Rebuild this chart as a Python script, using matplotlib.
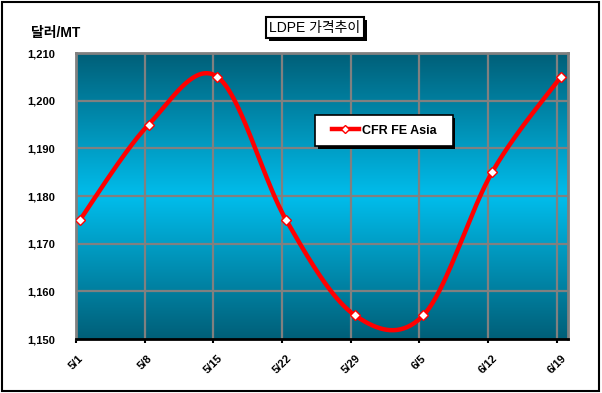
import numpy as np
import matplotlib.pyplot as plt
import matplotlib.patheffects as pe
from matplotlib.colors import LinearSegmentedColormap
from matplotlib.patches import Rectangle
from matplotlib.lines import Line2D

# ---- data ----
dates = ["5/1", "5/8", "5/15", "5/22", "5/29", "6/5", "6/12", "6/19"]
prices = [1175, 1195, 1205, 1175, 1155, 1155, 1185, 1205]
series_name = "CFR FE Asia"
title = "LDPE 가격추이"
unit_label = "달러/MT"
yticks = [1150, 1160, 1170, 1180, 1190, 1200, 1210]

FONT = ["Liberation Sans", "Noto Sans CJK KR", "DejaVu Sans"]
plt.rcParams["font.family"] = FONT


def smooth(x, y, n=40):
    # Catmull-Rom style smoothing (like Excel's "smoothed line")
    x = np.asarray(x, float)
    y = np.asarray(y, float)
    px = np.concatenate([[x[0]], x, [x[-1]]])
    py = np.concatenate([[y[0]], y, [y[-1]]])
    xs, ys = [], []
    for i in range(1, len(px) - 2):
        t = np.linspace(0, 1, n)
        mx0 = (px[i + 1] - px[i - 1]) / 2
        mx1 = (px[i + 2] - px[i]) / 2
        my0 = (py[i + 1] - py[i - 1]) / 2
        my1 = (py[i + 2] - py[i]) / 2
        h00 = 2 * t**3 - 3 * t**2 + 1
        h01 = -2 * t**3 + 3 * t**2
        h10 = t**3 - 2 * t**2 + t
        h11 = t**3 - t**2
        xs.append(h00 * px[i] + h01 * px[i + 1] + h10 * mx0 + h11 * mx1)
        ys.append(h00 * py[i] + h01 * py[i + 1] + h10 * my0 + h11 * my1)
    return np.concatenate(xs), np.concatenate(ys)


fig = plt.figure(figsize=(6.02, 3.93), dpi=100)
fig.patch.set_facecolor("white")
ax = fig.add_axes([0.1262, 0.1374, 0.8173, 0.7277])

x = np.arange(len(dates))
off = 0.058
ax.set_xlim(-off, 7.104)
ax.set_ylim(1150, 1210)

# gradient background (dark teal -> bright cyan -> dark teal)
cmap = LinearSegmentedColormap.from_list(
    "bg", [(0.0, "#005f78"), (0.5, "#00bdec"), (1.0, "#005f78")])
grad = np.linspace(0, 1, 256).reshape(-1, 1)
ax.imshow(grad, cmap=cmap, aspect="auto", extent=[-off, 7.104, 1150, 1210],
          zorder=0, origin="upper")

# grid
for xi in x - off:
    ax.axvline(xi, color="#808080", lw=1.6, zorder=1)
for yv in yticks[1:-1]:
    ax.axhline(yv, color="#808080", lw=1.6, zorder=1)

sx, sy = smooth(x, prices)
ax.plot(sx, sy, color="#ff0000", lw=3.2, zorder=3, solid_capstyle="round")
ax.plot(x, prices, ls="none", marker="D", ms=5.5, mfc="white", mec="#ff0000",
        mew=1.0, zorder=4)

ax.set_xticks(x - off)
ax.set_xticklabels(dates, rotation=45, ha="center", fontsize=8,
                   fontweight="bold")
ax.set_yticks(yticks)
ax.set_yticklabels([f"{v:,}" for v in yticks], fontsize=8, fontweight="bold")
ax.tick_params(axis="y", length=0, pad=15)
ax.tick_params(axis="x", length=3, width=1.5, pad=7)

for side in ["top", "right", "left"]:
    ax.spines[side].set_color("#808080")
    ax.spines[side].set_linewidth(2)
ax.spines["bottom"].set_color("black")
ax.spines["bottom"].set_linewidth(2)
ax.spines["bottom"].set_zorder(5)

# legend box with shadow
lx0, ly0, lw, lh = 0.486, 0.675, 0.280, 0.108
ax.add_patch(Rectangle((lx0 + 0.005, ly0 - 0.009), lw, lh, transform=ax.transAxes,
                       facecolor="black", edgecolor="none", zorder=6))
ax.add_patch(Rectangle((lx0, ly0), lw, lh, transform=ax.transAxes,
                       facecolor="white", edgecolor="black", lw=1.2, zorder=7))
handle = Line2D([], [], color="#ff0000", lw=3.2, marker="D", ms=4.5,
                mfc="white", mec="#ff0000")
leg = ax.legend([handle], [series_name], loc="center",
                bbox_to_anchor=(lx0 + lw / 2, ly0 + lh / 2),
                frameon=False, handlelength=2.2, handletextpad=0.2,
                prop={"weight": "bold", "size": 9})
leg.set_zorder(8)

# title box with shadow
t = fig.text(0.523, 0.929, title, ha="center", va="center", fontsize=10,
             bbox=dict(boxstyle="square,pad=0.25", facecolor="white",
                       edgecolor="black", lw=1.5))
t.get_bbox_patch().set_path_effects([
    pe.SimplePatchShadow(offset=(2, -2), shadow_rgbFace="black", alpha=1),
    pe.Normal()])
fig.text(0.051, 0.916, unit_label, ha="left", va="center", fontsize=10,
         fontweight="bold")

# outer frame
fig.add_artist(Rectangle((0.004, 0.006), 0.991, 0.988, transform=fig.transFigure,
                         facecolor="none", edgecolor="black", lw=1.5))

fig.savefig("out.png", dpi=100)
